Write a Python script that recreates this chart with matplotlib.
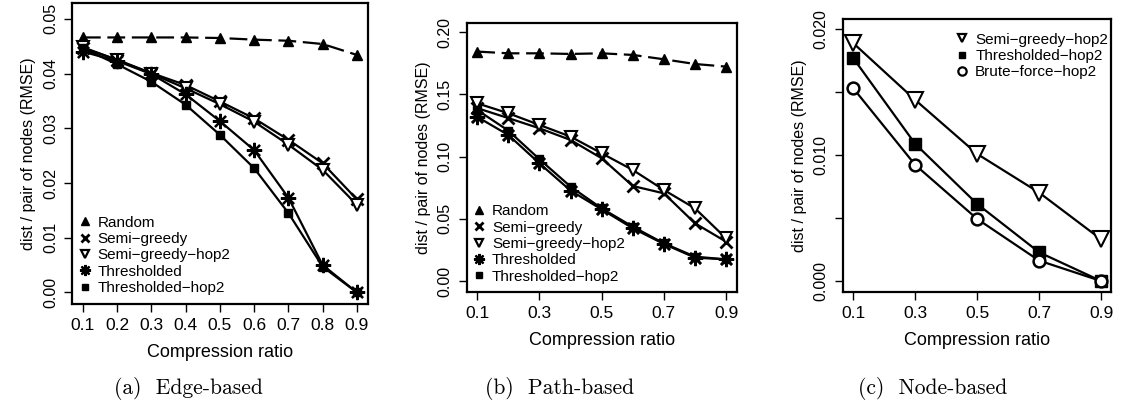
import matplotlib.pyplot as plt
from matplotlib.lines import Line2D

# compression ratios
ratio_ab = [0.1, 0.2, 0.3, 0.4, 0.5, 0.6, 0.7, 0.8, 0.9]
ratio_c = [0.1, 0.3, 0.5, 0.7, 0.9]

# (a) Edge-based
edge_random = [0.0466, 0.0466, 0.0466, 0.0466, 0.0465, 0.0462, 0.0460, 0.0454, 0.0434]
edge_semi = [0.0447, 0.0425, 0.0401, 0.0379, 0.0349, 0.0318, 0.0279, 0.0236, 0.0170]
edge_semi_hop2 = [0.0448, 0.0425, 0.0400, 0.0373, 0.0344, 0.0312, 0.0270, 0.0224, 0.0160]
edge_thr = [0.0440, 0.0423, 0.0399, 0.0362, 0.0313, 0.0260, 0.0173, 0.0050, 0.0]
edge_thr_hop2 = [0.0446, 0.0417, 0.0385, 0.0343, 0.0288, 0.0227, 0.0145, 0.0047, 0.0]

# (b) Path-based
path_random = [0.1845, 0.1831, 0.1831, 0.1826, 0.1831, 0.1818, 0.1783, 0.1745, 0.1724]
path_semi = [0.139, 0.131, 0.1228, 0.1134, 0.0987, 0.0764, 0.0705, 0.0464, 0.0316]
path_semi_hop2 = [0.1429, 0.1349, 0.1255, 0.1161, 0.1027, 0.0893, 0.0732, 0.0584, 0.0343]
path_thr = [0.132, 0.1174, 0.0946, 0.0727, 0.0576, 0.0424, 0.0298, 0.0188, 0.0174]
path_thr_hop2 = [0.1375, 0.1209, 0.0979, 0.0759, 0.0584, 0.0437, 0.0303, 0.0196, 0.0174]

# (c) Node-based
node_semi_hop2 = [0.01889, 0.01438, 0.01009, 0.00702, 0.00331]
node_thr_hop2 = [0.0177, 0.01089, 0.00612, 0.00228, 0.0]
node_brute = [0.01531, 0.00922, 0.00493, 0.00162, 0.0]

M = '\u2212'
sans = 'Liberation Sans'
plt.rcParams['font.family'] = sans
asterisk = (8, 2, 0)

fig = plt.figure(figsize=(11.21, 4.08), dpi=100)
ax1 = fig.add_axes([0.0642, 0.255, 0.264, 0.7377])
ax2 = fig.add_axes([0.4163, 0.285, 0.2409, 0.6593])
ax3 = fig.add_axes([0.7517, 0.285, 0.2391, 0.6684])

lw = 1.6


def style(ax, xlim, ylim, xticks, yticks, ylabels):
    ax.set_xlim(xlim)
    ax.set_ylim(ylim)
    ax.set_xticks(xticks)
    ax.set_xticklabels([str(t) for t in xticks], fontsize=12.5)
    ax.set_yticks(yticks)
    ax.set_yticklabels(ylabels, fontsize=11.5, rotation=90, va='center')
    ax.tick_params(length=6, width=1, pad=4)
    for s in ax.spines.values():
        s.set_linewidth(1.6)
    ax.set_xlabel('Compression ratio', fontsize=13, labelpad=8)
    ax.set_ylabel('dist / pair of nodes (RMSE)', fontsize=11.5, labelpad=5)


# panel a
ax1.plot(ratio_ab, edge_random, color='black', lw=lw, dashes=(8, 3), marker='^', ms=7)
ax1.plot(ratio_ab, edge_semi, color='black', lw=lw, marker='x', ms=8, mew=2)
ax1.plot(ratio_ab, edge_semi_hop2, color='black', lw=lw, marker='v', ms=8, mfc='white', mew=1.5)
ax1.plot(ratio_ab, edge_thr, color='black', lw=lw, marker=asterisk, ms=11, mew=1.6)
ax1.plot(ratio_ab, edge_thr_hop2, color='black', lw=lw, marker='s', ms=6)
style(ax1, (0.068, 0.932), (-0.0021, 0.0529), ratio_ab,
      [0, 0.01, 0.02, 0.03, 0.04, 0.05], ['0.00', '0.01', '0.02', '0.03', '0.04', '0.05'])

# panel b
ax2.plot(ratio_ab, path_random, color='black', lw=lw, dashes=(8, 3), marker='^', ms=7)
ax2.plot(ratio_ab, path_semi, color='black', lw=lw, marker='x', ms=8, mew=2)
ax2.plot(ratio_ab, path_semi_hop2, color='black', lw=lw, marker='v', ms=9, mfc='white', mew=1.5)
ax2.plot(ratio_ab, path_thr, color='black', lw=lw, marker=asterisk, ms=11, mew=1.8)
ax2.plot(ratio_ab, path_thr_hop2, color='black', lw=lw, marker='s', ms=6)
style(ax2, (0.066, 0.934), (-0.0086, 0.2077), [0.1, 0.3, 0.5, 0.7, 0.9],
      [0, 0.05, 0.10, 0.15, 0.20], ['0.00', '0.05', '0.10', '0.15', '0.20'])

# panel c
ax3.plot(ratio_c, node_semi_hop2, color='black', lw=lw, marker='v', ms=12, mfc='white', mew=1.5)
ax3.plot(ratio_c, node_thr_hop2, color='black', lw=lw, marker='s', ms=8)
ax3.plot(ratio_c, node_brute, color='black', lw=lw, marker='o', ms=8.5, mfc='white', mew=1.8)
style(ax3, (0.066, 0.931), (-0.00085, 0.0208), ratio_c,
      [0, 0.01, 0.02], ['0.000', '0.010', '0.020'])
ax3.set_yticks([0.005, 0.015], minor=True)
ax3.tick_params(which='minor', length=6, width=1)


def handles(names, markers):
    hs = []
    for n, m in zip(names, markers):
        kw = dict(color='black', linestyle='none', ms=6)
        if m == 'v' or m == 'o':
            kw.update(mfc='white', mew=1.6)
        if m == 'x':
            kw.update(mew=2)
        if m == asterisk:
            kw.update(mew=1.6, ms=8)
        if m == 's':
            kw.update(ms=5)
        hs.append(Line2D([], [], marker=m, label=n, **kw))
    return hs


names5 = ['Random', 'Semi' + M + 'greedy', 'Semi' + M + 'greedy' + M + 'hop2',
          'Thresholded', 'Thresholded' + M + 'hop2']
marks5 = ['^', 'x', 'v', asterisk, 's']
leg_kw = dict(frameon=False, fontsize=11, handlelength=0.9, handletextpad=0.4,
              labelspacing=0.15, borderpad=0, borderaxespad=0)
ax1.legend(handles=handles(names5, marks5), loc='lower left', bbox_to_anchor=(0.02, 0.03), **leg_kw)
ax2.legend(handles=handles(names5, marks5), loc='lower left', bbox_to_anchor=(0.02, 0.03), **leg_kw)
names3 = ['Semi' + M + 'greedy' + M + 'hop2', 'Thresholded' + M + 'hop2', 'Brute' + M + 'force' + M + 'hop2']
ax3.legend(handles=handles(names3, ['v', 's', 'o']), loc='upper right', bbox_to_anchor=(0.99, 0.95), **leg_kw)

cap_font = 'cmr10'
fig.text(188 / 1121, 1 - 389 / 408, '(a)  Edge-based', ha='center', va='center', fontsize=15.5, family=cap_font)
fig.text(560 / 1121, 1 - 389 / 408, '(b)  Path-based', ha='center', va='center', fontsize=15.5, family=cap_font)
fig.text(933 / 1121, 1 - 389 / 408, '(c)  Node-based', ha='center', va='center', fontsize=15.5, family=cap_font)

fig.savefig('out.png', dpi=100)
